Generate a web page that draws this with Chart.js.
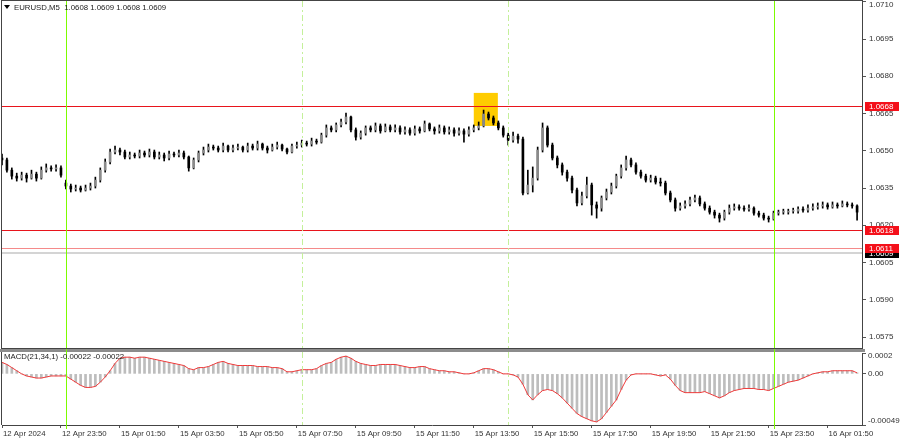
<!DOCTYPE html>
<html>
<head>
<meta charset="utf-8">
<script src="https://cdn.jsdelivr.net/npm/chart.js@4.4.1/dist/chart.umd.min.js"></script>
<style>
  html, body { margin: 0; padding: 0; background: #fff; }
  #wrap { position: relative; width: 900px; height: 441px; overflow: hidden; }
  #priceChart { position: absolute; left: 0; top: 0; }
  #macdChart { position: absolute; left: 0; top: 349px; }
</style>
</head>
<body>
<div id="wrap">
  <canvas id="priceChart" width="900" height="349"></canvas>
  <canvas id="macdChart" width="900" height="92"></canvas>
</div>
<script>
// EURUSD M5 (one candle per ~10 min of the picture)
const opens = [
  1.06471, 1.06463, 1.06422, 1.06398, 1.06390, 1.06402, 1.06390, 1.06406, 1.06390, 1.06422,
  1.06431, 1.06427, 1.06431, 1.06370, 1.06358, 1.06346, 1.06350, 1.06342, 1.06350, 1.06358,
  1.06382, 1.06422, 1.06455, 1.06495, 1.06503, 1.06495, 1.06475, 1.06483, 1.06479, 1.06491,
  1.06483, 1.06495, 1.06475, 1.06483, 1.06471, 1.06487, 1.06483, 1.06491, 1.06475, 1.06431,
  1.06463, 1.06491, 1.06503, 1.06515, 1.06511, 1.06503, 1.06519, 1.06503, 1.06511, 1.06515,
  1.06503, 1.06519, 1.06511, 1.06527, 1.06511, 1.06503, 1.06515, 1.06523, 1.06507, 1.06495,
  1.06519, 1.06523, 1.06531, 1.06527, 1.06539, 1.06535, 1.06563, 1.06592, 1.06584, 1.06604,
  1.06616, 1.06636, 1.06584, 1.06555, 1.06571, 1.06592, 1.06584, 1.06600, 1.06580, 1.06596,
  1.06584, 1.06592, 1.06576, 1.06584, 1.06571, 1.06588, 1.06580, 1.06608, 1.06588, 1.06580,
  1.06592, 1.06576, 1.06584, 1.06571, 1.06580, 1.06567, 1.06584, 1.06592, 1.06600, 1.06648,
  1.06632, 1.06612, 1.06592, 1.06563, 1.06543, 1.06559, 1.06547, 1.06330, 1.06362, 1.06390,
  1.06503, 1.06592, 1.06523, 1.06471, 1.06443, 1.06414, 1.06390, 1.06342, 1.06290, 1.06318,
  1.06362, 1.06282, 1.06269, 1.06310, 1.06334, 1.06358, 1.06398, 1.06431, 1.06463, 1.06443,
  1.06414, 1.06398, 1.06382, 1.06390, 1.06374, 1.06370, 1.06330, 1.06302, 1.06269, 1.06278,
  1.06286, 1.06302, 1.06310, 1.06286, 1.06269, 1.06253, 1.06241, 1.06229, 1.06253, 1.06269,
  1.06274, 1.06269, 1.06265, 1.06269, 1.06249, 1.06241, 1.06229, 1.06225, 1.06249, 1.06253,
  1.06253, 1.06257, 1.06257, 1.06265, 1.06261, 1.06269, 1.06274, 1.06278, 1.06282, 1.06274,
  1.06282, 1.06278, 1.06286, 1.06282, 1.06278
];
const highs = [
  1.06487, 1.06471, 1.06431, 1.06410, 1.06414, 1.06410, 1.06422, 1.06414, 1.06435, 1.06447,
  1.06439, 1.06443, 1.06439, 1.06382, 1.06366, 1.06362, 1.06358, 1.06362, 1.06370, 1.06394,
  1.06431, 1.06467, 1.06507, 1.06519, 1.06511, 1.06503, 1.06495, 1.06491, 1.06503, 1.06499,
  1.06507, 1.06503, 1.06495, 1.06491, 1.06499, 1.06495, 1.06503, 1.06499, 1.06479, 1.06471,
  1.06499, 1.06515, 1.06527, 1.06523, 1.06519, 1.06531, 1.06523, 1.06523, 1.06527, 1.06519,
  1.06531, 1.06527, 1.06539, 1.06531, 1.06519, 1.06527, 1.06535, 1.06527, 1.06511, 1.06527,
  1.06535, 1.06543, 1.06539, 1.06551, 1.06547, 1.06571, 1.06604, 1.06600, 1.06612, 1.06628,
  1.06652, 1.06640, 1.06592, 1.06580, 1.06600, 1.06600, 1.06612, 1.06608, 1.06608, 1.06604,
  1.06604, 1.06600, 1.06596, 1.06592, 1.06600, 1.06596, 1.06620, 1.06612, 1.06596, 1.06604,
  1.06600, 1.06596, 1.06592, 1.06592, 1.06588, 1.06596, 1.06604, 1.06616, 1.06664, 1.06656,
  1.06640, 1.06620, 1.06600, 1.06571, 1.06575, 1.06567, 1.06555, 1.06422, 1.06435, 1.06515,
  1.06612, 1.06600, 1.06531, 1.06479, 1.06451, 1.06422, 1.06398, 1.06350, 1.06334, 1.06394,
  1.06370, 1.06294, 1.06318, 1.06346, 1.06370, 1.06406, 1.06443, 1.06479, 1.06471, 1.06451,
  1.06422, 1.06406, 1.06402, 1.06398, 1.06390, 1.06378, 1.06338, 1.06310, 1.06290, 1.06298,
  1.06314, 1.06322, 1.06318, 1.06294, 1.06278, 1.06261, 1.06249, 1.06261, 1.06282, 1.06286,
  1.06282, 1.06278, 1.06282, 1.06274, 1.06257, 1.06249, 1.06237, 1.06257, 1.06261, 1.06265,
  1.06265, 1.06269, 1.06274, 1.06274, 1.06282, 1.06286, 1.06290, 1.06294, 1.06290, 1.06294,
  1.06290, 1.06298, 1.06294, 1.06290, 1.06282
];
const lows = [
  1.06443, 1.06414, 1.06386, 1.06378, 1.06382, 1.06374, 1.06386, 1.06378, 1.06386, 1.06414,
  1.06418, 1.06418, 1.06394, 1.06346, 1.06334, 1.06338, 1.06334, 1.06338, 1.06342, 1.06350,
  1.06374, 1.06414, 1.06447, 1.06487, 1.06483, 1.06467, 1.06467, 1.06471, 1.06471, 1.06475,
  1.06475, 1.06467, 1.06467, 1.06459, 1.06463, 1.06475, 1.06475, 1.06467, 1.06418, 1.06427,
  1.06455, 1.06483, 1.06495, 1.06503, 1.06495, 1.06495, 1.06495, 1.06495, 1.06503, 1.06495,
  1.06495, 1.06503, 1.06503, 1.06503, 1.06491, 1.06499, 1.06507, 1.06499, 1.06487, 1.06491,
  1.06511, 1.06515, 1.06519, 1.06519, 1.06527, 1.06531, 1.06555, 1.06576, 1.06576, 1.06596,
  1.06608, 1.06576, 1.06543, 1.06547, 1.06563, 1.06576, 1.06576, 1.06571, 1.06576, 1.06576,
  1.06576, 1.06567, 1.06567, 1.06563, 1.06563, 1.06571, 1.06576, 1.06580, 1.06567, 1.06571,
  1.06567, 1.06567, 1.06559, 1.06563, 1.06535, 1.06559, 1.06576, 1.06584, 1.06596, 1.06624,
  1.06604, 1.06584, 1.06555, 1.06523, 1.06535, 1.06531, 1.06322, 1.06326, 1.06334, 1.06382,
  1.06495, 1.06515, 1.06463, 1.06431, 1.06402, 1.06378, 1.06330, 1.06278, 1.06282, 1.06310,
  1.06241, 1.06229, 1.06257, 1.06302, 1.06326, 1.06350, 1.06390, 1.06422, 1.06435, 1.06406,
  1.06390, 1.06374, 1.06374, 1.06366, 1.06358, 1.06322, 1.06294, 1.06257, 1.06261, 1.06269,
  1.06278, 1.06294, 1.06278, 1.06261, 1.06245, 1.06229, 1.06213, 1.06221, 1.06245, 1.06261,
  1.06261, 1.06257, 1.06257, 1.06241, 1.06233, 1.06221, 1.06213, 1.06221, 1.06241, 1.06245,
  1.06245, 1.06249, 1.06249, 1.06253, 1.06253, 1.06261, 1.06265, 1.06269, 1.06265, 1.06269,
  1.06269, 1.06274, 1.06274, 1.06269, 1.06221
];
const closes = [
  1.06463, 1.06422, 1.06398, 1.06390, 1.06402, 1.06390, 1.06406, 1.06390, 1.06422, 1.06431,
  1.06427, 1.06431, 1.06402, 1.06358, 1.06346, 1.06350, 1.06342, 1.06350, 1.06358, 1.06382,
  1.06422, 1.06455, 1.06495, 1.06503, 1.06495, 1.06475, 1.06483, 1.06479, 1.06491, 1.06483,
  1.06495, 1.06475, 1.06483, 1.06471, 1.06487, 1.06483, 1.06491, 1.06475, 1.06431, 1.06463,
  1.06491, 1.06503, 1.06515, 1.06511, 1.06503, 1.06519, 1.06503, 1.06511, 1.06515, 1.06503,
  1.06519, 1.06511, 1.06527, 1.06511, 1.06503, 1.06515, 1.06523, 1.06507, 1.06495, 1.06519,
  1.06523, 1.06531, 1.06527, 1.06539, 1.06535, 1.06563, 1.06592, 1.06584, 1.06604, 1.06616,
  1.06636, 1.06584, 1.06555, 1.06571, 1.06592, 1.06584, 1.06600, 1.06580, 1.06596, 1.06584,
  1.06592, 1.06576, 1.06584, 1.06571, 1.06588, 1.06580, 1.06608, 1.06588, 1.06580, 1.06592,
  1.06576, 1.06584, 1.06571, 1.06580, 1.06567, 1.06584, 1.06592, 1.06600, 1.06648, 1.06632,
  1.06612, 1.06592, 1.06563, 1.06543, 1.06559, 1.06547, 1.06330, 1.06362, 1.06390, 1.06503,
  1.06592, 1.06523, 1.06471, 1.06443, 1.06414, 1.06390, 1.06342, 1.06290, 1.06318, 1.06362,
  1.06282, 1.06269, 1.06310, 1.06334, 1.06358, 1.06398, 1.06431, 1.06463, 1.06443, 1.06414,
  1.06398, 1.06382, 1.06390, 1.06374, 1.06370, 1.06330, 1.06302, 1.06269, 1.06278, 1.06286,
  1.06302, 1.06310, 1.06286, 1.06269, 1.06253, 1.06241, 1.06229, 1.06253, 1.06269, 1.06274,
  1.06269, 1.06265, 1.06269, 1.06249, 1.06241, 1.06229, 1.06225, 1.06249, 1.06253, 1.06253,
  1.06257, 1.06257, 1.06265, 1.06261, 1.06269, 1.06274, 1.06278, 1.06282, 1.06274, 1.06282,
  1.06278, 1.06286, 1.06282, 1.06278, 1.06253
];
// MACD(21,34,1) main line = histogram
const macdValues = [
  0.00011, 0.00009, 0.00006, 0.00003, 0.00000, -0.00002, -0.00003, -0.00004, -0.00004, -0.00003,
  -0.00002, -0.00002, -0.00002, -0.00002, -0.00005, -0.00008, -0.00011, -0.00013, -0.00013, -0.00012,
  -0.00008, -0.00003, 0.00003, 0.00010, 0.00015, 0.00016, 0.00016, 0.00015, 0.00016, 0.00016,
  0.00015, 0.00014, 0.00013, 0.00012, 0.00011, 0.00010, 0.00009, 0.00008, 0.00005, 0.00004,
  0.00006, 0.00006, 0.00007, 0.00009, 0.00011, 0.00012, 0.00010, 0.00009, 0.00008, 0.00008,
  0.00008, 0.00008, 0.00007, 0.00007, 0.00007, 0.00006, 0.00006, 0.00005, 0.00002, 0.00002,
  0.00003, 0.00004, 0.00004, 0.00004, 0.00005, 0.00008, 0.00010, 0.00011, 0.00014, 0.00016,
  0.00017, 0.00015, 0.00012, 0.00010, 0.00009, 0.00008, 0.00008, 0.00009, 0.00009, 0.00009,
  0.00009, 0.00008, 0.00007, 0.00006, 0.00006, 0.00007, 0.00007, 0.00005, 0.00004, 0.00003,
  0.00003, 0.00002, 0.00002, 0.00001, 0.00000, 0.00000, 0.00001, 0.00003, 0.00005, 0.00005,
  0.00004, 0.00002, 0.00000, 0.00000, -0.00001, -0.00003, -0.00010, -0.00020, -0.00025, -0.00020,
  -0.00016, -0.00015, -0.00016, -0.00019, -0.00023, -0.00028, -0.00033, -0.00038, -0.00041, -0.00043,
  -0.00045, -0.00046, -0.00043, -0.00037, -0.00031, -0.00025, -0.00015, -0.00006, -0.00001, 0.00000,
  0.00000, 0.00000, 0.00000, -0.00001, -0.00002, -0.00001, -0.00005, -0.00011, -0.00016, -0.00018,
  -0.00018, -0.00018, -0.00018, -0.00017, -0.00019, -0.00021, -0.00023, -0.00021, -0.00018, -0.00016,
  -0.00015, -0.00014, -0.00014, -0.00014, -0.00015, -0.00015, -0.00016, -0.00014, -0.00012, -0.00010,
  -0.00008, -0.00007, -0.00006, -0.00004, -0.00002, 0.00000, 0.00001, 0.00002, 0.00002, 0.00003,
  0.00003, 0.00003, 0.00003, 0.00003, 0.00001
];

const priceTicks = [1.0575, 1.0590, 1.0605, 1.0620, 1.0635, 1.0650, 1.0665, 1.0680, 1.0695, 1.0710];
const macdTicks = [-0.00049, 0, 0.0002];
const macdTickLabels = ['-0.00049', '0.00', '0.0002'];
const timeTickIndex = [0, 12, 24, 36, 48, 60, 72, 84, 96, 108, 120, 132, 144, 156, 168];
const timeTickLabels = ['12 Apr 2024', '12 Apr 23:50', '15 Apr 01:50', '15 Apr 03:50', '15 Apr 05:50',
  '15 Apr 07:50', '15 Apr 09:50', '15 Apr 11:50', '15 Apr 13:50', '15 Apr 15:50', '15 Apr 17:50',
  '15 Apr 19:50', '15 Apr 21:50', '15 Apr 23:50', '16 Apr 01:50'];

const resistanceLevel = 1.0668;
const supportLevels = [1.0618, 1.0611];
const lastPrice = 1.0609;
const dayStarts = [13, 157];       // 15 Apr 00:00, 16 Apr 00:00
const sessionMarks = [61, 103];    // 15 Apr 08:00, 15 Apr 15:00
const signalBox = { from: 96, to: 100.9, low: 1.0660, high: 1.06733 };

const titleText = 'EURUSD,M5  1.0608 1.0609 1.0608 1.0609';
const macdText = 'MACD(21,34,1) -0.00022 -0.00022';

const FONT = "'Liberation Sans', Arial, sans-serif";
const AXIS_W = 38;
const X_MIN = 0, X_MAX = 175;

function fitRightAxis(scale) {
    scale.width = AXIS_W;
    scale.paddingTop = 0;
    scale.paddingBottom = 0;
}

function vline(ctx, px, top, bottom, color, dash) {
    ctx.save();
    ctx.strokeStyle = color;
    ctx.lineWidth = 1;
    if (dash) ctx.setLineDash(dash);
    const xx = Math.round(px) + 0.5;
    ctx.beginPath();
    ctx.moveTo(xx, top);
    ctx.lineTo(xx, bottom);
    ctx.stroke();
    ctx.restore();
}

function priceTag(ctx, yc, text, bg) {
    ctx.fillStyle = bg;
    ctx.fillRect(865, Math.round(yc) - 4, 34, 9);
    ctx.fillStyle = '#fff';
    ctx.font = '8px ' + FONT;
    ctx.textAlign = 'left';
    ctx.textBaseline = 'middle';
    ctx.fillText(text, 869, Math.round(yc) + 0.5);
}

// bull bodies look grey in the downscaled screenshot, bear bodies black
const bodyColors = closes.map((c, i) => c >= opens[i] ? '#8a8a8a' : '#000000');

const priceOverlay = {
    id: 'priceOverlay',
    beforeDatasetsDraw(chart) {
        const {ctx, scales: {x, y}} = chart;
        const x1 = x.getPixelForValue(signalBox.from), x2 = x.getPixelForValue(signalBox.to);
        const y1 = y.getPixelForValue(signalBox.high), y2 = y.getPixelForValue(signalBox.low);
        ctx.save();
        ctx.fillStyle = '#FFCC00';
        ctx.fillRect(x1, y1, x2 - x1, y2 - y1);
        ctx.restore();
    },
    afterDatasetsDraw(chart) {
        const {ctx, chartArea: a, scales: {x, y}} = chart;
        ctx.save();
        // horizontal levels
        const hl = (p, color, w) => {
            const yy = Math.round(y.getPixelForValue(p)) + (w === 1 ? 0.5 : 0);
            ctx.strokeStyle = color;
            ctx.lineWidth = w;
            ctx.beginPath();
            ctx.moveTo(a.left, yy);
            ctx.lineTo(a.right, yy);
            ctx.stroke();
        };
        hl(lastPrice, '#d4d4d4', 2);
        hl(supportLevels[1], '#f58a8a', 1);
        hl(supportLevels[0], '#e8141c', 1);
        hl(resistanceLevel, '#e8141c', 1);
        ctx.restore();
        sessionMarks.forEach(v => vline(ctx, x.getPixelForValue(v), a.top, a.bottom, '#c4f09a', [6, 3, 2, 3]));
        dayStarts.forEach(v => vline(ctx, x.getPixelForValue(v), a.top, a.bottom, '#7cfc00'));
    },
    afterDraw(chart) {
        const {ctx, chartArea: a, scales: {y}} = chart;
        ctx.save();
        // frame
        ctx.strokeStyle = '#444';
        ctx.lineWidth = 1;
        ctx.strokeRect(a.left - 0.5, a.top - 0.5, a.right - a.left + 1, a.bottom - a.top + 1);
        // price scale labels
        ctx.fillStyle = '#333';
        ctx.font = '8px ' + FONT;
        ctx.textAlign = 'left';
        ctx.textBaseline = 'middle';
        priceTicks.forEach(v => {
            const yy = Math.max(y.getPixelForValue(v), a.top + 4);
            ctx.fillText(v.toFixed(4), 869, yy);
        });
        // level tags
        priceTag(ctx, y.getPixelForValue(resistanceLevel), resistanceLevel.toFixed(4), '#f4101a');
        priceTag(ctx, y.getPixelForValue(supportLevels[0]), supportLevels[0].toFixed(4), '#f4101a');
        priceTag(ctx, y.getPixelForValue(lastPrice), lastPrice.toFixed(4), '#000');
        priceTag(ctx, y.getPixelForValue(supportLevels[1]), supportLevels[1].toFixed(4), '#f4101a');
        // title
        ctx.fillStyle = '#000';
        ctx.beginPath();
        ctx.moveTo(4, 5); ctx.lineTo(10, 5); ctx.lineTo(7, 9); ctx.closePath();
        ctx.fill();
        ctx.fillStyle = '#222';
        ctx.font = '7.8px ' + FONT;
        ctx.fillText(titleText, 14, 7.5);
        ctx.restore();
    }
};

new Chart(document.getElementById('priceChart'), {
    type: 'bar',
    plugins: [priceOverlay],
    data: {
        datasets: [
            {
                label: 'body',
                order: 1,
                data: closes.map((c, i) => ({x: i, y: [opens[i], c]})),
                backgroundColor: bodyColors,
                borderWidth: 0,
                barThickness: 2,
                minBarLength: 1,
                grouped: false
            },
            {
                label: 'wick',
                order: 2,
                data: highs.map((h, i) => ({x: i, y: [lows[i], h]})),
                backgroundColor: '#000',
                barThickness: 1,
                grouped: false
            }
        ]
    },
    options: {
        responsive: false,
        animation: false,
        layout: {padding: {left: 2, top: 1, right: 0, bottom: 1}},
        plugins: {legend: {display: false}, tooltip: {enabled: false}},
        scales: {
            x: {type: 'linear', min: X_MIN, max: X_MAX, offset: false, display: false, grid: {offset: false}},
            y: {
                position: 'right',
                min: 1.05706,
                max: 1.07103,
                afterFit: fitRightAxis,
                afterBuildTicks: s => { s.ticks = priceTicks.map(v => ({value: v})); },
                ticks: {display: false},
                grid: {drawOnChartArea: false, tickLength: 4, color: '#555'},
                border: {color: '#444'}
            }
        }
    }
});

const macdOverlay = {
    id: 'macdOverlay',
    beforeDraw(chart) {
        const ctx = chart.ctx;
        ctx.save();
        ctx.fillStyle = '#8c8c8c';
        ctx.fillRect(0, 0, 865, 3);
        ctx.restore();
    },
    afterDatasetsDraw(chart) {
        const {ctx, chartArea: a, scales: {x}} = chart;
        sessionMarks.forEach(v => vline(ctx, x.getPixelForValue(v), 3, a.bottom, '#c4f09a', [6, 3, 2, 3]));
        dayStarts.forEach(v => vline(ctx, x.getPixelForValue(v), 0, a.bottom + 4, '#7cfc00'));
    },
    afterDraw(chart) {
        const {ctx, chartArea: a, scales: {y}} = chart;
        ctx.save();
        ctx.strokeStyle = '#444';
        ctx.lineWidth = 1;
        ctx.beginPath();
        ctx.moveTo(a.left - 0.5, 3);
        ctx.lineTo(a.left - 0.5, a.bottom);
        ctx.stroke();
        ctx.fillStyle = '#333';
        ctx.font = '8px ' + FONT;
        ctx.textAlign = 'left';
        ctx.textBaseline = 'middle';
        macdTicks.forEach((v, i) => {
            let yy = y.getPixelForValue(v);
            yy = Math.min(Math.max(yy, a.top + 3), a.bottom - 4);
            ctx.fillText(macdTickLabels[i], 868, yy);
        });
        ctx.fillStyle = '#222';
        ctx.font = '7.8px ' + FONT;
        ctx.fillText(macdText, 4, 8);
        ctx.restore();
    }
};

new Chart(document.getElementById('macdChart'), {
    type: 'bar',
    plugins: [macdOverlay],
    data: {
        datasets: [
            {
                type: 'line',
                label: 'signal',
                order: 1,
                data: macdValues.map((v, i) => ({x: i, y: v})),
                borderColor: '#f03a3a',
                borderWidth: 1,
                pointRadius: 0,
                tension: 0
            },
            {
                label: 'MACD',
                order: 2,
                data: macdValues.map((v, i) => ({x: i, y: v})),
                backgroundColor: '#bdbdbd',
                barThickness: 2,
                grouped: false
            }
        ]
    },
    options: {
        responsive: false,
        animation: false,
        layout: {padding: {left: 2, top: 4, right: 0, bottom: 0}},
        plugins: {legend: {display: false}, tooltip: {enabled: false}},
        scales: {
            x: {
                type: 'linear', min: X_MIN, max: X_MAX, offset: false, position: 'bottom',
                afterBuildTicks: s => { s.ticks = timeTickIndex.map(v => ({value: v})); },
                afterFit: s => { s.height = 16; s.paddingLeft = 0; s.paddingRight = 0; },
                ticks: {
                    callback: (v, i) => timeTickLabels[i],
                    align: 'start',
                    labelOffset: 1,
                    autoSkip: false,
                    maxRotation: 0,
                    padding: 1,
                    color: '#333',
                    font: {family: FONT, size: 7.8}
                },
                grid: {drawOnChartArea: false, tickLength: 3, color: '#555', offset: false},
                border: {color: '#444'}
            },
            y: {
                position: 'right',
                min: -0.00049,
                max: 0.0002,
                afterFit: fitRightAxis,
                afterBuildTicks: s => { s.ticks = macdTicks.map(v => ({value: v})); },
                ticks: {display: false},
                grid: {drawOnChartArea: false, tickLength: 4, color: '#555'},
                border: {color: '#444'}
            }
        }
    }
});
</script>
</body>
</html>
